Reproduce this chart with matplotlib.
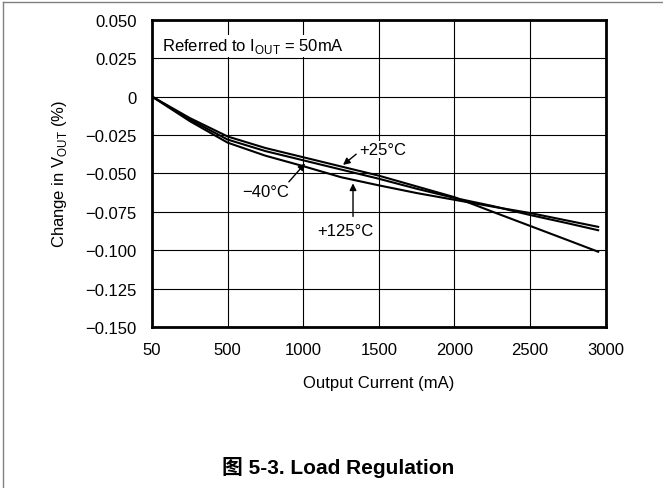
import matplotlib
matplotlib.use("Agg")
import matplotlib.pyplot as plt
from matplotlib.lines import Line2D

plt.rcParams['font.family'] = ['Liberation Sans', 'Noto Sans CJK SC']
plt.rcParams['mathtext.fontset'] = 'custom'
plt.rcParams['mathtext.rm'] = 'Liberation Sans'

# load current (mA); the first sample sits on the axis origin, which the chart labels "50"
current = [0, 250, 500, 750, 1000, 1250, 1500, 1750, 2000, 2250, 2500, 2750, 2950]

# change in Vout (%) per temperature
dv_25c = [0, -0.0140, -0.026, -0.0335, -0.0395, -0.0455, -0.0515, -0.0585, -0.0655,
          -0.0749, -0.0842, -0.0935, -0.101]
dv_m40c = [0, -0.0150, -0.028, -0.0355, -0.0415, -0.0475, -0.0535, -0.0600, -0.0660,
           -0.0712, -0.0771, -0.0825, -0.087]
dv_125c = [0, -0.0160, -0.030, -0.0385, -0.0453, -0.0525, -0.0578, -0.0628, -0.0672,
           -0.0716, -0.0758, -0.0808, -0.0848]

x_ticks = [0, 500, 1000, 1500, 2000, 2500, 3000]
x_tick_labels = ['50', '500', '1000', '1500', '2000', '2500', '3000']
y_ticks = [0.05, 0.025, 0, -0.025, -0.05, -0.075, -0.1, -0.125, -0.15]
y_tick_labels = ['0.050', '0.025', '0', '\u22120.025', '\u22120.050', '\u22120.075',
                 '\u22120.100', '\u22120.125', '\u22120.150']

fig = plt.figure(figsize=(6.63, 4.89), dpi=100)
ax = fig.add_axes([0.2293, 0.3292, 0.6843, 0.6284])

for series in [dv_25c, dv_m40c, dv_125c]:
    ax.plot(current, series, color='black', lw=1.5, zorder=3)

ax.set_xlim(0, 3000)
ax.set_ylim(-0.15, 0.05)
ax.set_xticks(x_ticks)
ax.set_xticklabels(x_tick_labels)
ax.set_yticks(y_ticks)
ax.set_yticklabels(y_tick_labels)
ax.tick_params(length=0, labelsize=12, pad=11)
ax.grid(True, color='black', lw=0.8)
for s in ax.spines.values():
    s.set_linewidth(2)

ax.set_xlabel('Output Current (mA)', fontsize=12, labelpad=13)
ax.set_ylabel(r'Change in V$_{\mathregular{OUT}}$ (%)', fontsize=12, labelpad=12)

box = dict(facecolor='white', edgecolor='none', pad=1)
ax.text(0.022, 0.915, r'Referred to I$_{\mathregular{OUT}}$ = 50mA', transform=ax.transAxes,
        fontsize=12, va='center', ha='left', bbox=box, zorder=4)

arrow = dict(arrowstyle='-|>', color='black', lw=1, mutation_scale=10, shrinkA=0, shrinkB=0)

# +25C
ax.annotate('', xy=(1263, -0.0445), xytext=(1350, -0.0375), arrowprops=arrow, zorder=5)
ax.text(1370, -0.0345, '+25\u00b0C', fontsize=12, ha='left', va='center', bbox=box, zorder=4)
# -40C
ax.annotate('', xy=(1012, -0.0435), xytext=(905, -0.0555), arrowprops=arrow, zorder=5)
ax.text(754, -0.062, '\u221240\u00b0C', fontsize=12, ha='center', va='center', bbox=box, zorder=4)
# +125C
ax.annotate('', xy=(1329, -0.0565), xytext=(1329, -0.078), arrowprops=arrow, zorder=5)
ax.text(1276, -0.0874, '+125\u00b0C', fontsize=12, ha='center', va='center', bbox=box, zorder=4)

fig.text(0.51, 1 - 468 / 489, '\u56fe 5-3. Load Regulation', fontsize=15, fontweight='bold',
         ha='center', va='center')

# page frame lines
fig.add_artist(Line2D([0.005, 1], [0.9945, 0.9945], transform=fig.transFigure, color='gray', lw=1))
fig.add_artist(Line2D([0.005, 0.005], [0, 0.9945], transform=fig.transFigure, color='gray', lw=1))

fig.savefig('out.png', dpi=100)
